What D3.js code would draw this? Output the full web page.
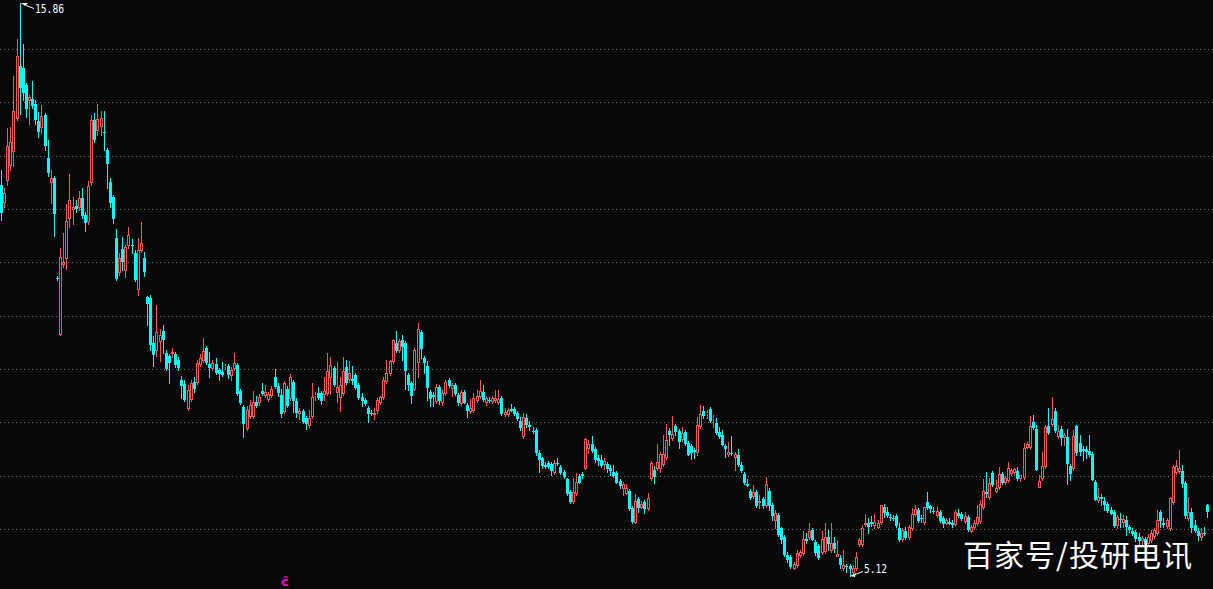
<!DOCTYPE html>
<html><head><meta charset="utf-8">
<script src="https://cdn.jsdelivr.net/npm/d3@7"></script>
<style>html,body{margin:0;padding:0;background:#080808;overflow:hidden}</style>
</head><body><svg id="c" width="1213" height="589"></svg>
<script>
const opens=[12.45,12.13,12.54,12.83,13.09,13.71,14.68,14.64,14.33,14.04,
14.06,13.97,13.65,13.54,13.76,12.96,12.51,12.58,10.71,9.66,
10.97,11.08,11.83,12.00,12.06,12.04,12.21,11.89,11.78,12.51,
13.67,13.48,13.56,13.45,13.11,12.51,12.23,11.46,10.82,11.25,
10.86,11.33,11.33,11.18,10.50,11.23,11.08,10.35,10.33,9.49,
9.36,9.53,9.71,9.30,9.24,9.30,9.28,9.17,8.79,8.72,
8.27,8.44,8.76,8.76,9.09,9.17,9.39,9.09,9.02,9.09,
8.98,8.94,9.05,9.06,8.89,9.02,9.08,8.59,8.29,7.89,
8.12,8.12,8.38,8.38,8.59,8.51,8.44,8.51,8.85,8.68,
8.51,8.21,8.63,8.46,8.76,8.40,8.18,8.21,8.08,7.95,
8.12,8.51,8.55,8.55,8.53,8.55,8.85,9.02,8.57,8.48,
8.55,9.04,8.81,8.81,8.89,8.70,8.48,8.42,8.27,8.18,
8.16,8.23,8.38,8.48,8.78,8.93,9.15,9.49,9.36,9.54,
9.49,8.89,8.74,8.63,9.13,9.69,9.21,9.06,8.57,8.51,
8.40,8.66,8.38,8.55,8.79,8.64,8.70,8.51,8.36,8.57,
8.33,8.21,8.23,8.42,8.49,8.57,8.38,8.42,8.40,8.42,
8.38,8.46,8.16,8.16,8.25,8.25,8.18,8.03,7.74,8.08,
7.95,7.84,7.86,7.43,7.33,7.20,7.24,7.22,7.07,7.24,
7.16,7.07,6.94,6.69,6.53,6.68,6.99,7.03,7.14,7.52,
7.59,7.50,7.33,7.29,7.22,7.22,7.14,7.07,7.05,6.90,
6.77,6.68,6.71,6.39,6.13,6.56,6.41,6.51,6.39,6.96,
7.11,7.15,7.15,7.22,7.35,7.84,7.71,7.93,7.84,7.69,
7.82,7.61,7.56,7.48,7.44,7.93,8.21,8.17,8.25,8.08,
7.99,7.82,7.76,7.56,7.41,7.43,7.35,7.39,7.20,7.03,
6.84,6.71,6.62,6.69,6.51,6.56,6.45,6.71,6.45,6.17,
6.26,6.02,5.85,5.51,5.48,5.27,5.33,5.51,5.55,5.81,
5.85,5.98,5.76,5.68,5.57,5.59,5.85,5.61,5.74,5.49,
5.46,5.27,5.31,5.31,5.20,5.27,5.72,5.72,6.09,6.11,
6.13,6.08,6.04,6.13,6.41,6.32,6.23,6.21,6.24,6.02,
5.81,5.96,5.85,6.02,6.28,6.36,6.21,6.13,
6.51,6.43,6.34,6.26,6.32,6.21,6.11,6.13,6.11,6.09,
6.30,6.28,6.15,6.23,5.96,6.04,6.11,6.15,6.41,6.69,
6.60,7.05,6.71,6.79,7.03,6.88,6.92,7.05,7.07,7.09,
6.96,6.98,7.54,7.54,8.01,7.88,6.79,6.96,7.18,7.93,
7.97,8.21,7.74,7.88,7.73,7.73,7.18,7.15,7.93,7.61,
7.50,7.50,7.46,7.41,6.88,6.54,6.60,6.52,6.47,6.36,
6.32,6.08,6.19,6.13,6.17,6.04,5.96,5.94,5.85,5.79,
5.81,5.74,5.79,5.87,5.92,6.32,6.11,6.06,6.02,6.51,
7.07,7.09,7.09,6.86,6.21,6.32,6.08,5.96,5.85,5.93,6.45];
const highs=[12.73,12.39,13.52,13.54,14.49,15.19,15.86,15.09,14.36,14.14,
14.40,14.04,13.82,13.95,13.80,13.29,12.73,12.62,10.74,11.27,
11.55,12.09,12.66,12.23,12.17,12.34,12.39,11.94,12.53,13.76,
13.80,13.97,13.84,13.84,13.14,12.58,12.26,11.63,11.18,11.48,
11.33,11.66,11.44,11.23,11.46,11.76,11.20,10.37,10.39,9.62,
10.20,9.75,9.83,9.36,9.28,9.39,9.32,9.23,8.87,8.79,
8.70,8.79,8.85,9.17,9.28,9.58,9.43,9.32,9.17,9.21,
9.02,9.13,9.09,9.09,9.04,9.30,9.11,8.63,8.33,8.31,
8.42,8.59,8.49,8.53,8.74,8.70,8.57,8.68,9.00,8.74,
8.63,8.78,8.68,8.91,8.79,8.46,8.27,8.25,8.12,8.23,
8.74,8.57,8.66,8.59,8.85,9.30,9.23,9.06,9.13,8.85,
9.23,9.17,9.15,9.06,8.93,8.74,8.55,8.46,8.31,8.23,
8.27,8.46,8.49,8.85,9.17,9.17,9.56,9.71,9.56,9.64,
9.53,8.93,8.78,9.39,9.86,9.73,9.24,9.15,8.61,8.57,
8.72,8.70,8.61,8.79,8.83,8.74,8.74,8.55,8.61,8.61,
8.36,8.44,8.55,8.61,8.79,8.70,8.49,8.48,8.49,8.61,
8.61,8.49,8.27,8.27,8.34,8.29,8.21,8.10,8.18,8.16,
8.03,7.91,7.89,7.48,7.35,7.26,7.28,7.26,7.29,7.33,
7.20,7.11,6.96,6.73,6.96,7.05,7.03,7.07,7.71,7.67,
7.74,7.54,7.39,7.39,7.33,7.26,7.20,7.20,7.09,6.94,
6.88,6.84,6.75,6.43,6.66,6.60,6.52,6.54,6.68,7.28,
7.18,7.59,7.44,7.76,7.97,7.89,8.12,7.97,7.88,7.91,
7.86,7.65,7.59,7.52,8.10,8.33,8.31,8.23,8.29,8.14,
8.08,7.91,7.86,7.59,7.63,7.74,7.44,7.50,7.26,7.07,
6.94,6.75,6.83,6.73,6.64,6.60,6.97,6.77,6.49,6.36,
6.30,6.04,5.89,5.57,5.51,5.38,5.61,5.61,5.96,5.92,
6.11,6.02,5.79,5.72,5.96,6.11,5.98,6.11,5.85,5.79,
5.51,5.61,5.34,5.34,5.33,5.57,5.83,6.08,6.28,6.21,
6.24,6.28,6.17,6.45,6.47,6.41,6.28,6.26,6.28,6.11,
6.02,6.04,6.08,6.39,6.45,6.39,6.26,6.41,
6.69,6.45,6.41,6.43,6.36,6.24,6.21,6.21,6.17,6.36,
6.38,6.32,6.32,6.26,6.08,6.17,6.45,6.54,6.94,7.07,
6.96,7.09,6.92,7.16,7.07,6.99,7.26,7.14,7.14,7.16,
7.01,7.61,7.63,8.12,8.14,7.95,7.01,7.44,7.95,8.27,
8.48,8.27,7.95,7.93,7.80,7.88,7.22,7.86,7.95,7.76,
7.56,7.56,7.76,7.44,6.92,6.77,6.66,6.60,6.51,6.41,
6.36,6.26,6.30,6.26,6.24,6.08,6.02,5.98,5.92,5.87,
5.85,5.91,5.98,6.02,6.36,6.36,6.21,6.21,6.60,7.20,
7.29,7.48,7.20,6.90,6.60,6.39,6.17,6.02,6.02,6.04,6.47];
const lows=[11.79,12.04,12.45,12.73,12.81,13.67,13.78,14.04,13.73,13.59,
13.89,13.59,13.35,13.43,13.11,12.62,12.11,11.50,10.67,9.64,
10.91,10.88,11.66,11.72,11.94,11.98,11.83,11.59,11.72,12.45,
13.26,13.39,13.39,13.11,12.39,12.04,11.74,10.67,10.76,10.86,
10.73,11.27,11.18,10.65,10.39,11.20,10.75,9.83,9.36,9.06,
9.25,9.15,9.30,8.98,8.74,9.23,9.04,8.98,8.46,8.40,
8.23,8.40,8.57,8.72,9.06,9.13,9.09,8.85,8.98,8.91,
8.79,8.87,9.00,8.83,8.79,8.98,8.51,8.34,7.73,7.86,
8.08,8.08,8.29,8.33,8.51,8.48,8.40,8.48,8.64,8.49,
8.10,8.18,8.29,8.42,8.19,8.10,8.06,7.99,7.88,7.91,
8.08,8.42,8.44,8.34,8.42,8.51,8.53,8.68,8.38,8.21,
8.51,8.72,8.76,8.72,8.63,8.44,8.31,8.33,8.01,8.14,
8.06,8.18,8.34,8.44,8.74,8.89,9.11,9.32,9.32,9.17,
8.63,8.61,8.36,8.61,8.85,9.21,8.93,8.42,8.31,8.31,
8.36,8.34,8.33,8.51,8.66,8.49,8.51,8.33,8.33,8.36,
8.10,8.18,8.19,8.38,8.46,8.40,8.33,8.38,8.36,8.38,
8.34,8.14,8.12,8.12,8.21,8.14,8.04,7.86,7.71,7.91,
7.86,7.80,7.39,7.07,7.14,7.14,7.14,7.01,7.03,7.20,
7.03,6.96,6.64,6.49,6.49,6.64,6.86,6.96,7.13,7.43,
7.44,7.26,7.20,7.16,7.13,7.07,7.01,6.97,6.86,6.77,
6.64,6.66,6.36,6.11,6.11,6.32,6.39,6.30,6.36,6.92,
6.86,7.11,7.07,7.18,7.31,7.58,7.67,7.76,7.52,7.65,
7.58,7.39,7.31,7.33,7.39,7.89,8.08,8.08,8.01,7.91,
7.78,7.71,7.58,7.35,7.37,7.39,7.11,7.18,7.07,6.84,
6.81,6.56,6.58,6.41,6.39,6.39,6.41,6.36,6.17,6.02,
5.87,5.74,5.49,5.38,5.27,5.25,5.29,5.48,5.51,5.74,
5.81,5.79,5.51,5.44,5.53,5.55,5.61,5.57,5.57,5.49,
5.27,5.23,5.19,5.12,5.16,5.23,5.68,5.68,6.06,5.92,
6.06,6.02,6.02,6.09,6.23,6.23,6.17,6.17,6.04,5.77,
5.77,5.81,5.81,5.98,6.24,6.13,6.13,6.09,
6.38,6.32,6.30,6.23,6.13,6.04,6.09,6.09,6.04,6.08,
6.23,6.17,6.11,5.96,5.94,6.00,6.08,6.11,6.38,6.60,
6.56,6.81,6.69,6.75,6.84,6.84,6.88,7.01,7.01,6.92,
6.90,6.94,7.52,7.50,7.88,7.11,6.79,6.92,7.14,7.78,
7.93,7.82,7.71,7.58,7.58,6.84,6.92,7.11,7.39,7.39,
7.29,7.33,7.37,6.92,6.54,6.51,6.45,6.36,6.32,6.28,
6.04,6.02,6.04,6.04,5.89,5.94,5.89,5.77,5.70,5.70,
5.68,5.68,5.76,5.83,5.89,6.04,6.04,6.02,5.98,6.47,
7.03,7.05,6.79,6.21,6.17,5.94,5.94,5.79,5.79,5.89,6.22];
const closes=[11.94,12.30,13.18,13.26,13.84,14.87,14.29,14.20,13.89,14.10,
13.95,13.69,13.46,13.74,13.20,12.70,12.58,11.93,10.70,11.10,
11.01,11.78,12.17,12.04,12.02,12.21,11.89,11.76,12.43,13.67,
13.31,13.69,13.71,13.44,12.86,12.13,11.83,10.71,11.08,11.03,
11.29,11.51,11.32,10.69,11.23,11.36,10.84,10.24,9.47,9.28,
9.70,9.64,9.56,9.02,9.13,9.31,9.09,9.04,8.70,8.44,
8.61,8.74,8.64,9.11,9.21,9.34,9.13,9.04,9.11,8.94,
8.93,8.91,9.06,8.91,8.98,9.11,8.55,8.38,7.99,8.23,
8.33,8.38,8.33,8.48,8.55,8.57,8.53,8.63,8.68,8.57,
8.18,8.74,8.33,8.85,8.42,8.19,8.21,8.03,7.99,8.08,
8.48,8.52,8.48,8.42,8.59,8.96,9.08,8.72,8.66,8.70,
8.96,8.76,8.93,8.80,8.66,8.48,8.42,8.36,8.18,8.17,
8.18,8.42,8.48,8.79,8.93,9.15,9.54,9.36,9.53,9.43,
8.98,8.72,8.51,9.36,9.75,9.39,9.13,8.66,8.46,8.50,
8.66,8.42,8.55,8.76,8.70,8.70,8.55,8.38,8.57,8.38,
8.23,8.27,8.46,8.49,8.59,8.44,8.46,8.41,8.46,8.46,
8.44,8.18,8.19,8.23,8.24,8.18,8.08,7.91,8.10,7.97,
7.94,7.83,7.44,7.31,7.20,7.19,7.18,7.11,7.24,7.23,
7.07,6.99,6.68,6.53,6.69,6.88,6.88,7.02,7.69,7.59,
7.48,7.31,7.29,7.20,7.28,7.14,7.11,7.01,6.88,6.83,
6.84,6.77,6.39,6.15,6.53,6.41,6.47,6.39,6.58,7.24,
6.99,7.26,7.41,7.41,7.67,7.78,7.78,7.84,7.65,7.80,
7.61,7.41,7.44,7.47,7.95,8.16,8.14,8.18,8.04,8.09,
7.82,7.74,7.59,7.52,7.44,7.42,7.41,7.22,7.11,6.88,
6.83,6.60,6.69,6.45,6.53,6.45,6.84,6.45,6.26,6.30,
5.91,5.81,5.53,5.44,5.31,5.35,5.55,5.57,5.81,5.80,
5.96,5.81,5.57,5.48,5.81,5.85,5.74,5.74,5.64,5.53,
5.34,5.33,5.30,5.27,5.27,5.48,5.79,6.02,6.11,6.06,
6.12,6.13,6.11,6.45,6.32,6.26,6.22,6.20,6.08,5.81,
5.98,5.85,6.04,6.28,6.38,6.17,6.20,6.41,
6.41,6.39,6.33,6.34,6.17,6.11,6.17,6.12,6.10,6.32,
6.26,6.21,6.24,6.00,6.04,6.11,6.23,6.47,6.71,6.68,
6.86,6.84,6.77,7.03,6.88,6.96,7.14,7.11,7.12,6.96,
7.01,7.52,7.59,7.93,7.91,7.13,6.90,7.18,7.91,7.82,
8.06,7.86,7.84,7.73,7.76,7.24,7.05,7.74,7.44,7.46,
7.49,7.46,7.41,6.94,6.56,6.60,6.59,6.47,6.36,6.30,
6.08,6.23,6.18,6.19,6.06,6.00,5.93,5.83,5.79,5.83,
5.74,5.85,5.92,5.98,6.17,6.17,6.10,6.17,6.58,7.16,
7.18,7.14,6.86,6.26,6.32,6.04,5.98,5.89,5.92,5.92,6.34];
const gridLevels=[6,7,8,9,10,11,12,13,14,15];
const watermarkText="百家号/投研电讯";
const markerText="ĉ";
const markerIndex=91;

const W=1213,H=589,BG="#080808",UP="#ff5454",DN="#00ffff";
const svg=d3.select("#c");
svg.append("rect").attr("width",W).attr("height",H).attr("fill",BG);

const n=opens.length;
const data=d3.range(n).map(i=>({i,o:opens[i],h:highs[i],l:lows[i],c:closes[i]}));
const x=d3.scaleBand().domain(d3.range(n)).range([0,1209]).padding(0);
const y=d3.scaleLinear().domain([6,15]).range([529,49]);
const cxOf=i=>Math.floor(x(i)+x.bandwidth()/2);
const py=v=>Math.round(y(v));

// grid
svg.append("g").selectAll("line").data(gridLevels).join("line")
  .attr("x1",0).attr("x2",W)
  .attr("y1",d=>py(d)+0.5).attr("y2",d=>py(d)+0.5)
  .attr("stroke","#6e6e6e").attr("stroke-dasharray","1,3");

const upD=data.filter(d=>d.c>d.o), dnD=data.filter(d=>d.c<=d.o);
const gUp=svg.append("g"), gDn=svg.append("g");

// down candles (filled cyan)
gDn.selectAll("line").data(dnD).join("line")
  .attr("x1",d=>cxOf(d.i)+0.5).attr("x2",d=>cxOf(d.i)+0.5)
  .attr("y1",d=>py(d.h)).attr("y2",d=>py(d.l)+1)
  .attr("stroke",DN).attr("stroke-width",1);
gDn.selectAll("rect").data(dnD).join("rect")
  .attr("x",d=>cxOf(d.i)-1).attr("width",3)
  .attr("y",d=>py(d.o))
  .attr("height",d=>Math.max(1,py(d.c)-py(d.o)+1))
  .attr("fill",DN);

// up candles (hollow red)
gUp.selectAll("line.hi").data(upD).join("line").attr("class","hi")
  .attr("x1",d=>cxOf(d.i)+0.5).attr("x2",d=>cxOf(d.i)+0.5)
  .attr("y1",d=>py(d.h)).attr("y2",d=>py(d.c))
  .attr("stroke",UP);
gUp.selectAll("line.lo").data(upD).join("line").attr("class","lo")
  .attr("x1",d=>cxOf(d.i)+0.5).attr("x2",d=>cxOf(d.i)+0.5)
  .attr("y1",d=>py(d.o)+1).attr("y2",d=>py(d.l)+1)
  .attr("stroke",UP);
gUp.selectAll("rect").data(upD).join("rect")
  .attr("x",d=>cxOf(d.i)-0.5).attr("width",2)
  .attr("y",d=>py(d.c)+0.5)
  .attr("height",d=>Math.max(0,py(d.o)-py(d.c)))
  .attr("fill",BG).attr("stroke",UP).attr("stroke-width",1);

// high / low annotations
const hiI=d3.maxIndex(highs), loI=d3.minIndex(lows);
const ann=svg.append("g").attr("fill","#ffffff");
{
  const cx=cxOf(hiI), yh=py(highs[hiI]);
  ann.append("polygon").attr("points",`${cx+1},${yh} ${cx+8},${yh} ${cx+5},${yh+3}`);
  ann.append("line").attr("x1",cx+6).attr("y1",yh+2.5).attr("x2",cx+14).attr("y2",yh+5.5).attr("stroke","#fff");
  ann.append("text").attr("x",cx+15).attr("y",yh+10).attr("font-family","DejaVu Sans Mono").attr("font-size",12)
    .attr("textLength",29).attr("lengthAdjust","spacingAndGlyphs").text(highs[hiI].toFixed(2));
}
{
  const cx=cxOf(loI), yl=py(lows[loI]);
  ann.append("polygon").attr("points",`${cx},${yl} ${cx+6},${yl-3} ${cx+5},${yl+1}`);
  ann.append("line").attr("x1",cx+5).attr("y1",yl-1.5).attr("x2",cx+13).attr("y2",yl-4.5).attr("stroke","#fff");
  ann.append("text").attr("x",cx+14).attr("y",yl-3).attr("font-family","DejaVu Sans Mono").attr("font-size",12)
    .attr("textLength",23).attr("lengthAdjust","spacingAndGlyphs").text(lows[loI].toFixed(2));
}

// magenta marker
svg.append("text").attr("x",cxOf(markerIndex)-3).attr("y",586)
  .attr("font-family","DejaVu Sans").attr("font-weight","bold").attr("font-size",13)
  .attr("fill","#ff00cc").text(markerText);

// watermark
svg.append("text").attr("x",963).attr("y",566)
  .attr("font-family","Noto Sans CJK SC").attr("font-size",30).attr("fill","#ffffff")
  .attr("textLength",229).attr("lengthAdjust","spacing")
  .text(watermarkText);
</script></body></html>
